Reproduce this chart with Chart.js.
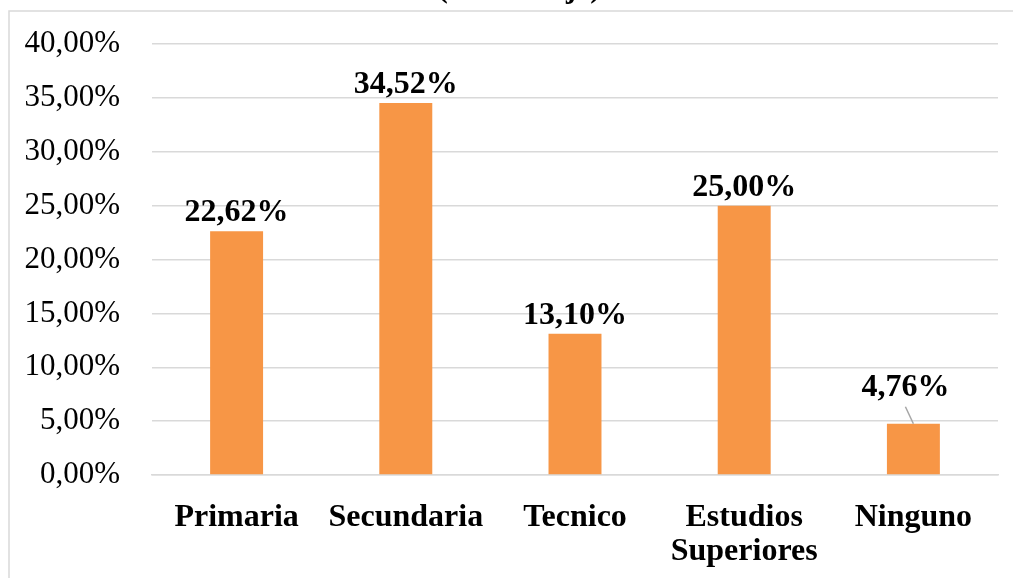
<!DOCTYPE html>
<html>
<head>
<meta charset="utf-8">
<script src="https://cdn.jsdelivr.net/npm/chart.js@4/dist/chart.umd.min.js"></script>
<style>
html,body{margin:0;padding:0;background:#fff;}
#wrap{position:relative;width:1013px;height:578px;}
</style>
</head>
<body>
<div id="wrap"><canvas id="c" width="1013" height="578"></canvas></div>
<script>
const categories = [["Primaria"], ["Secundaria"], ["Tecnico"], ["Estudios", "Superiores"], ["Ninguno"]];
const values = [22.62, 34.52, 13.10, 25.00, 4.76];
const valueLabels = ["22,62%", "34,52%", "13,10%", "25,00%", "4,76%"];
const yTicks = [0, 5, 10, 15, 20, 25, 30, 35, 40];
const titleText = "(Porcentaje)";

const serif = "'Liberation Serif', 'Times New Roman', serif";

const framePlugin = {
  id: 'frame',
  beforeDraw(chart) {
    const ctx = chart.ctx;
    ctx.save();
    ctx.fillStyle = '#fff';
    ctx.fillRect(0, 0, chart.width, chart.height);
    ctx.strokeStyle = '#d9d9d9';
    ctx.lineWidth = 1.5;
    ctx.beginPath();
    ctx.moveTo(9, chart.height);
    ctx.lineTo(9, 11);
    ctx.lineTo(chart.width, 11);
    ctx.stroke();
    // partially visible title
    ctx.fillStyle = '#000';
    ctx.font = "bold 31px " + serif;
    ctx.textAlign = 'center';
    ctx.textBaseline = 'alphabetic';
    ctx.fillText(titleText, 519, -3);
    ctx.restore();
  }
};

const labelPlugin = {
  id: 'vlabels',
  afterDatasetsDraw(chart) {
    const ctx = chart.ctx;
    const meta = chart.getDatasetMeta(0);
    ctx.save();
    ctx.font = "bold 32px " + serif;
    ctx.fillStyle = '#000';
    ctx.textAlign = 'center';
    ctx.textBaseline = 'alphabetic';
    meta.data.forEach((bar, i) => {
      if (i === values.length - 1) {
        const lx = bar.x - 8, ly = bar.y - 28;
        ctx.fillText(valueLabels[i], lx, ly);
        ctx.strokeStyle = '#a6a6a6';
        ctx.lineWidth = 1.5;
        ctx.beginPath();
        ctx.moveTo(lx, ly + 11);
        ctx.lineTo(bar.x, bar.y);
        ctx.stroke();
      } else {
        ctx.fillText(valueLabels[i], bar.x, bar.y - 10);
      }
    });
    ctx.restore();
  }
};

new Chart(document.getElementById('c'), {
  type: 'bar',
  data: {
    labels: categories,
    datasets: [{
      data: values,
      backgroundColor: '#F79646',
      borderWidth: 0,
      barPercentage: 0.313,
      categoryPercentage: 1.0
    }]
  },
  options: {
    responsive: false,
    animation: false,
    devicePixelRatio: 1,
    layout: { padding: { top: 44, right: 15, left: 0, bottom: 0 } },
    plugins: { legend: { display: false }, tooltip: { enabled: false }, title: { display: false } },
    scales: {
      y: {
        min: 0, max: 40,
        afterBuildTicks(scale) { scale.ticks = yTicks.map(v => ({ value: v })); },
        afterFit(scale) { scale.width = 152; scale.paddingTop = 0; scale.paddingBottom = 0; },
        border: { display: false },
        grid: { color: '#d9d9d9', lineWidth: 1.5, drawTicks: false },
        ticks: {
          padding: 32,
          color: '#000',
          font: { family: serif, size: 31 },
          callback: v => v.toFixed(2).replace('.', ',') + '%'
        }
      },
      x: {
        afterFit(scale) { scale.height = 103; scale.paddingLeft = 0; scale.paddingRight = 0; },
        border: { display: true, color: '#d9d9d9', width: 1.5 },
        grid: { display: false, drawTicks: false },
        ticks: {
          padding: 26,
          color: '#000',
          maxRotation: 0,
          autoSkip: false,
          font: { family: serif, size: 32, weight: 'bold', lineHeight: 1.06 }
        }
      }
    }
  },
  plugins: [framePlugin, labelPlugin]
});
</script>
</body>
</html>
